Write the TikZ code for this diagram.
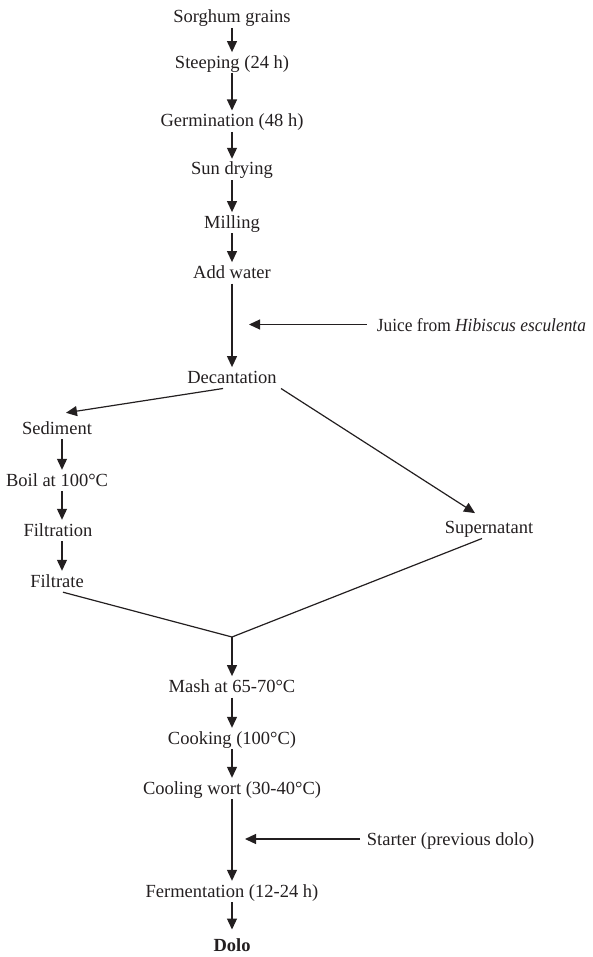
\documentclass[tikz,border=0pt]{standalone}
\usepackage{fontspec}
\usepackage{graphicx}
\setmainfont{Liberation Serif}
\usetikzlibrary{arrows.meta}
\definecolor{ink}{HTML}{231F20}
\begin{document}
\begin{tikzpicture}[x=1pt,y=-1pt,
  lbl/.style={font=\fontsize{18.5}{22}\selectfont, text=ink, text height=15pt, text depth=4pt, inner xsep=2pt, inner ysep=1pt, anchor=base},
  side/.style={lbl, anchor=base west},
  conn/.style={draw=ink, line width=1.2pt},
  arr/.style={conn, -{Triangle[length=11pt,width=10pt]}}]
\useasboundingbox (0,0) rectangle (593,957);
% main column
\node[lbl] (sor) at (232,22.7) {Sorghum grains};
\node[lbl] (stp) at (232,68.3) {Steeping (24 h)};
\node[lbl] (ger) at (232,126.7) {Germination (48 h)};
\node[lbl] (sun) at (232,175) {Sun drying};
\node[lbl] (mil) at (232,228.3) {Milling};
\node[lbl] (add) at (232,278.3) {Add water};
\node[lbl] (dec) at (232,383.3) {Decantation};
% left branch
\node[lbl] (sed) at (57,434) {Sediment};
\node[lbl] (boi) at (57,486) {Boil at 100°C};
\node[lbl] (fil) at (58,536) {Filtration};
\node[lbl] (fit) at (57,587) {Filtrate};
% right branch
\node[lbl] (sup) at (489,533.3) {Supernatant};
% lower column
\coordinate (J) at (232,637);
\node[lbl] (mas) at (232,692.3) {Mash at 65-70°C};
\node[lbl] (coo) at (232,744) {Cooking (100°C)};
\node[lbl] (cow) at (232,794) {Cooling wort (30-40°C)};
\node[lbl] (fer) at (232,897) {Fermentation (12-24 h)};
\node[lbl] (dol) at (232,951.7) {\textbf{Dolo}};
% side inputs
\node[side, inner xsep=10pt] (jui) at (366.7,331.7) {\scalebox{0.94}[1]{Juice from \textit{Hibiscus esculenta}}};
\coordinate (jt) at (249,324.5);
\node[side, inner xsep=6.7pt] (sta) at (360,845.5) {Starter (previous dolo)};
\coordinate (st) at (245,839);
% connectors
\draw[arr] (sor.south) -- (stp.north);
\draw[arr] (stp.south) -- (ger.north);
\draw[arr] (ger.south) -- (sun.north);
\draw[arr] (sun.south) -- (mil.north);
\draw[arr] (mil.south) -- (add.north);
\draw[arr] (add.south) -- (dec.north);
\draw[arr] (jui.west |- jt) -- (jt);
\draw[arr] ([xshift=-9pt]dec.south) -- ([xshift=9pt,yshift=5pt]sed.north);
\draw[arr] ([xshift=49pt]dec.south) -- ([xshift=-14pt,yshift=4pt]sup.north);
\draw[arr] ([xshift=5pt]sed.south) -- ([xshift=5pt]boi.north);
\draw[arr] ([xshift=5pt]boi.south) -- ([xshift=4pt]fil.north);
\draw[arr] ([xshift=4pt]fil.south) -- ([xshift=5pt]fit.north);
\draw[conn] ([xshift=6pt]fit.south) -- (J);
\draw[conn] ([xshift=-7pt]sup.south) -- (J);
\draw[arr] (J) -- (mas.north);
\draw[arr] (mas.south) -- (coo.north);
\draw[arr] (coo.south) -- (cow.north);
\draw[arr] (cow.south) -- (fer.north);
\draw[arr] (sta.west |- st) -- (st);
\draw[arr] (fer.south) -- ([yshift=6pt]dol.north);
\end{tikzpicture}
\end{document}
